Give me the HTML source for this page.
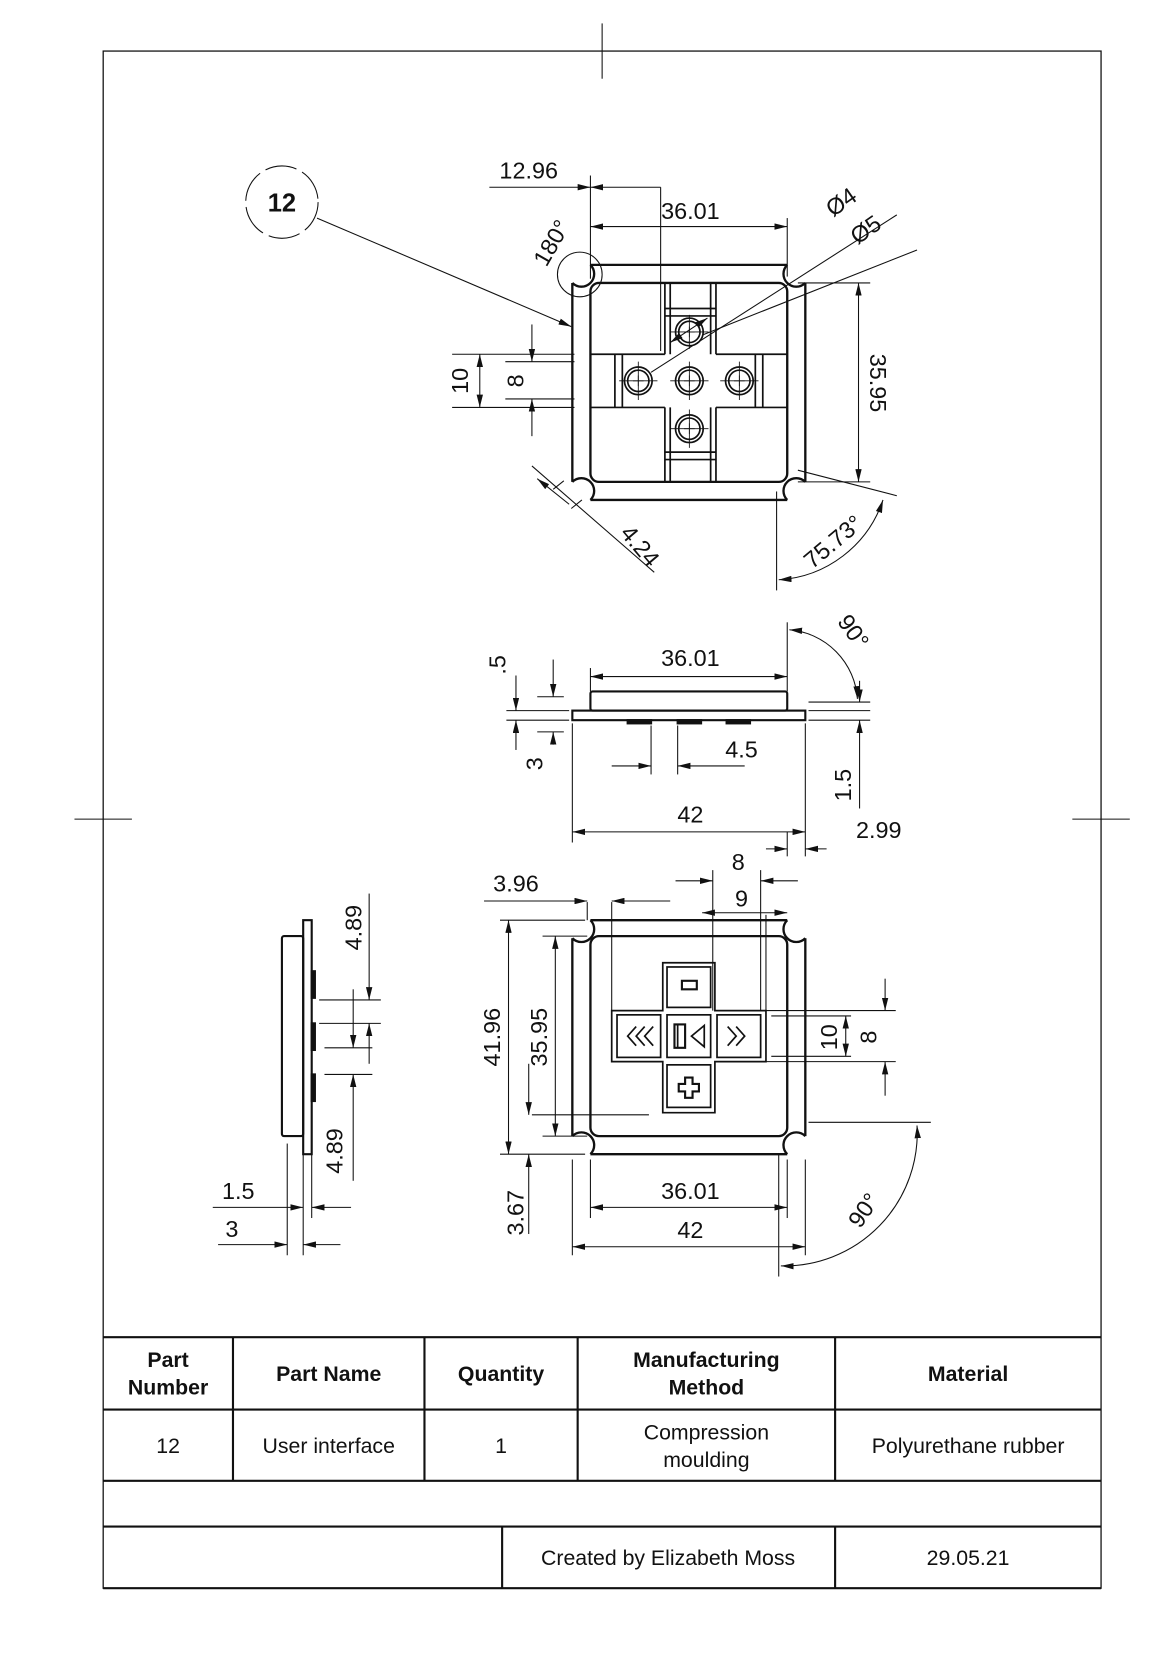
<!DOCTYPE html>
<html><head><meta charset="utf-8"><style>
html,body{margin:0;padding:0;background:#fff}
svg{display:block}
text{font-family:"Liberation Sans",Arial,sans-serif;fill:#111}
.d{font-size:22px}
.t{font-size:20px}
.b{font-weight:bold}
</style></head><body>
<svg width="1150" height="1668" viewBox="0 0 1081 1568" preserveAspectRatio="none" xmlns="http://www.w3.org/2000/svg">
<defs>
<marker id="a" viewBox="0 0 12 6" refX="12" refY="3" markerWidth="12" markerHeight="6" orient="auto-start-reverse" markerUnits="userSpaceOnUse"><path d="M0,0 L12,3 L0,6z" fill="#111"/></marker>
</defs>
<g stroke="#111" fill="none" stroke-width="1">
<rect x="97" y="48" width="938" height="1445" stroke-width="1.2"/>
<line x1="566" y1="22" x2="566" y2="74"/>
<line x1="70" y1="770" x2="124" y2="770"/>
<line x1="1008" y1="770" x2="1062" y2="770"/>
<g stroke-width="2">
<line x1="97" y1="1257" x2="1035" y2="1257"/>
<line x1="97" y1="1325" x2="1035" y2="1325"/>
<line x1="97" y1="1392" x2="1035" y2="1392"/>
<line x1="97" y1="1435" x2="1035" y2="1435"/>
<line x1="97" y1="1493" x2="1035" y2="1493"/>
<line x1="219" y1="1257" x2="219" y2="1392"/>
<line x1="399" y1="1257" x2="399" y2="1392"/>
<line x1="543" y1="1257" x2="543" y2="1392"/>
<line x1="785" y1="1257" x2="785" y2="1392"/>
<line x1="472" y1="1435" x2="472" y2="1493"/>
<line x1="785" y1="1435" x2="785" y2="1493"/>
</g>

<g stroke-width="2.2">
<path d="M555,249 H740 M538,266 V453 M757,266 V453 M555,470 H740"/>
<path d="M555,249 A9,9 0 0 1 538,266 M740,249 A9,9 0 0 0 757,266 M538,453 A9,9 0 0 1 555,470 M757,453 A9,9 0 0 0 740,470"/>
<rect x="555" y="266" width="185" height="187" rx="8"/>
</g>
<g stroke-width="1.6">
<path d="M625,266 V333 M673,266 V333 M625,383 V453 M673,383 V453 M555,333 H625 M673,333 H740 M555,383 H625 M673,383 H740"/>
<path d="M630,266 V333 M668,266 V333 M630,383 V453 M668,383 V453"/>
<path d="M625,290 H673 M625,297 H673 M625,425 H673 M625,432 H673"/>
<path d="M578,333 V383 M585,333 V383 M710,333 V383 M717,333 V383"/>
</g>
<g stroke-width="1.6">
<circle cx="648" cy="312" r="13"/><circle cx="648" cy="312" r="10"/>
<circle cx="600" cy="358" r="13"/><circle cx="600" cy="358" r="10"/>
<circle cx="648" cy="358" r="13"/><circle cx="648" cy="358" r="10"/>
<circle cx="695" cy="358" r="13"/><circle cx="695" cy="358" r="10"/>
<circle cx="648" cy="403" r="13"/><circle cx="648" cy="403" r="10"/>
</g>
<g stroke-width="0.8">
<path d="M630,312 H666 M648,296 V328 M582,358 H618 M600,340 V376 M630,358 H666 M648,340 V376 M677,358 H713 M695,340 V376 M630,403 H666 M648,385 V421"/>
<path d="M643,312 H653 M648,307 V317 M595,358 H605 M600,353 V363 M643,358 H653 M648,353 V363 M690,358 H700 M695,353 V363 M643,403 H653 M648,398 V408"/>
</g>
<line x1="555" y1="165" x2="555" y2="262"/>
<line x1="621" y1="176" x2="621" y2="330"/>
<line x1="740" y1="205" x2="740" y2="260"/>
<line x1="460" y1="176" x2="555" y2="176" marker-end="url(#a)"/>
<line x1="621" y1="176" x2="555" y2="176" marker-end="url(#a)"/>
<line x1="555" y1="213" x2="740" y2="213" marker-start="url(#a)" marker-end="url(#a)"/>
<line x1="750" y1="266" x2="818" y2="266"/>
<line x1="750" y1="453" x2="818" y2="453"/>
<line x1="807" y1="266" x2="807" y2="453" marker-start="url(#a)" marker-end="url(#a)"/>
<line x1="425" y1="333" x2="540" y2="333"/>
<line x1="425" y1="383" x2="540" y2="383"/>
<line x1="451" y1="333" x2="451" y2="383" marker-start="url(#a)" marker-end="url(#a)"/>
<line x1="475" y1="340" x2="540" y2="340"/>
<line x1="475" y1="375" x2="540" y2="375"/>
<line x1="500" y1="305" x2="500" y2="340" marker-end="url(#a)"/>
<line x1="500" y1="410" x2="500" y2="375" marker-end="url(#a)"/>
<circle cx="265" cy="190" r="34" stroke-dasharray="30 6"/>
<line x1="298" y1="205" x2="537" y2="307" marker-end="url(#a)"/>
<circle cx="545" cy="258" r="21"/>
<line x1="612" y1="350" x2="843" y2="202"/>
<line x1="630" y1="322" x2="665" y2="299" marker-start="url(#a)" marker-end="url(#a)"/>
<line x1="660" y1="315" x2="862" y2="235"/>
<line x1="500" y1="438" x2="615" y2="538"/>
<line x1="505" y1="450" x2="535" y2="474" marker-start="url(#a)"/>
<line x1="520" y1="460" x2="530" y2="452"/>
<line x1="537" y1="478" x2="547" y2="470"/>
<line x1="730" y1="462" x2="730" y2="555"/>
<line x1="750" y1="442" x2="843" y2="466"/>
<path d="M732,545 A110,110 0 0 0 830,470" marker-start="url(#a)" marker-end="url(#a)"/>

<g stroke-width="2">
<rect x="555" y="650" width="185" height="18" rx="2"/>
<rect x="538" y="668" width="219" height="9"/>
<rect x="590" y="677" width="22" height="3" fill="#111"/>
<rect x="637" y="677" width="22" height="3" fill="#111"/>
<rect x="683" y="677" width="22" height="3" fill="#111"/>
</g>
<line x1="555" y1="628" x2="555" y2="650"/>
<line x1="740" y1="585" x2="740" y2="650"/>
<line x1="555" y1="636" x2="740" y2="636" marker-start="url(#a)" marker-end="url(#a)"/>
<line x1="538" y1="680" x2="538" y2="792"/>
<line x1="757" y1="680" x2="757" y2="805"/>
<line x1="538" y1="782" x2="757" y2="782" marker-start="url(#a)" marker-end="url(#a)"/>
<line x1="612" y1="682" x2="612" y2="728"/>
<line x1="637" y1="682" x2="637" y2="728"/>
<line x1="575" y1="720" x2="612" y2="720" marker-end="url(#a)"/>
<line x1="700" y1="720" x2="637" y2="720" marker-end="url(#a)"/>
<line x1="476" y1="668" x2="535" y2="668"/>
<line x1="476" y1="677" x2="535" y2="677"/>
<line x1="505" y1="655" x2="530" y2="655"/>
<line x1="505" y1="688" x2="530" y2="688"/>
<line x1="485" y1="635" x2="485" y2="668" marker-end="url(#a)"/>
<line x1="485" y1="705" x2="485" y2="677" marker-end="url(#a)"/>
<line x1="520" y1="620" x2="520" y2="655" marker-end="url(#a)"/>
<line x1="520" y1="700" x2="520" y2="688" marker-end="url(#a)"/>
<line x1="760" y1="660" x2="818" y2="660"/>
<line x1="760" y1="668" x2="818" y2="668"/>
<line x1="760" y1="677" x2="818" y2="677"/>
<line x1="808" y1="640" x2="808" y2="660" marker-end="url(#a)"/>
<line x1="808" y1="760" x2="808" y2="677" marker-end="url(#a)"/>
<line x1="740" y1="782" x2="740" y2="805"/>
<line x1="720" y1="798" x2="740" y2="798" marker-end="url(#a)"/>
<line x1="777" y1="798" x2="757" y2="798" marker-end="url(#a)"/>
<path d="M742,592 A70,70 0 0 1 806,657" marker-start="url(#a)" marker-end="url(#a)"/>

<g stroke-width="2.2">
<path d="M555,865 H740 M538,882 V1068 M757,882 V1068 M555,1085 H740"/>
<path d="M555,865 A9,9 0 0 1 538,882 M740,865 A9,9 0 0 0 757,882 M538,1068 A9,9 0 0 1 555,1085 M757,1068 A9,9 0 0 0 740,1085"/>
<rect x="555" y="880" width="185" height="188" rx="8"/>
</g>
<g stroke-width="1.6">
<path d="M623,905 H672 V950 H720 V998 H672 V1046 H623 V998 H575 V950 H623 Z"/>
<rect x="627" y="909" width="41" height="38"/>
<rect x="580" y="954" width="41" height="40"/>
<rect x="627" y="954" width="41" height="40"/>
<rect x="674" y="954" width="41" height="40"/>
<rect x="627" y="1001" width="41" height="40"/>
<rect x="641" y="922" width="14" height="8" stroke-width="2"/>
<path d="M644,1013 h7 v6 h6 v7 h-6 v6 h-7 v-6 h-6 v-7 h6 z" stroke-width="2"/>
<path d="M598,965 L590,974 L598,983 M606,965 L598,974 L606,983 M614,965 L606,974 L614,983"/>
<path d="M684,965 L692,974 L684,983 M692,965 L700,974 L692,983" />
<rect x="634" y="963" width="10" height="22" stroke-width="2"/>
<path d="M637,963 V985 M662,964 L650,974 L662,984 Z"/>
</g>
<line x1="552" y1="848" x2="552" y2="865"/>
<line x1="575" y1="848" x2="575" y2="950"/>
<line x1="455" y1="847" x2="552" y2="847" marker-end="url(#a)"/>
<line x1="630" y1="847" x2="575" y2="847" marker-end="url(#a)"/>
<line x1="670" y1="818" x2="670" y2="950"/>
<line x1="715" y1="818" x2="715" y2="950"/>
<line x1="635" y1="828" x2="670" y2="828" marker-end="url(#a)"/>
<line x1="750" y1="828" x2="715" y2="828" marker-end="url(#a)"/>
<line x1="720" y1="860" x2="720" y2="950"/>
<line x1="660" y1="858" x2="740" y2="858" marker-start="url(#a)" marker-end="url(#a)"/>
<line x1="470" y1="865" x2="550" y2="865"/>
<line x1="470" y1="1085" x2="550" y2="1085"/>
<line x1="478" y1="865" x2="478" y2="1085" marker-start="url(#a)" marker-end="url(#a)"/>
<line x1="510" y1="880" x2="552" y2="880"/>
<line x1="510" y1="1068" x2="552" y2="1068"/>
<line x1="522" y1="880" x2="522" y2="1068" marker-start="url(#a)" marker-end="url(#a)"/>
<line x1="500" y1="1048" x2="610" y2="1048"/>
<line x1="497" y1="1000" x2="497" y2="1048" marker-end="url(#a)"/>
<line x1="497" y1="1160" x2="497" y2="1085" marker-end="url(#a)"/>
<line x1="720" y1="950" x2="842" y2="950"/>
<line x1="720" y1="998" x2="842" y2="998"/>
<line x1="725" y1="955" x2="800" y2="955"/>
<line x1="725" y1="993" x2="800" y2="993"/>
<line x1="795" y1="955" x2="795" y2="993" marker-start="url(#a)" marker-end="url(#a)"/>
<line x1="832" y1="920" x2="832" y2="950" marker-end="url(#a)"/>
<line x1="832" y1="1030" x2="832" y2="998" marker-end="url(#a)"/>
<line x1="555" y1="1090" x2="555" y2="1145"/>
<line x1="740" y1="1090" x2="740" y2="1145"/>
<line x1="555" y1="1135" x2="740" y2="1135" marker-start="url(#a)" marker-end="url(#a)"/>
<line x1="538" y1="1090" x2="538" y2="1180"/>
<line x1="757" y1="1090" x2="757" y2="1180"/>
<line x1="538" y1="1172" x2="757" y2="1172" marker-start="url(#a)" marker-end="url(#a)"/>
<line x1="760" y1="1055" x2="875" y2="1055"/>
<line x1="732" y1="1085" x2="732" y2="1200"/>
<path d="M734,1190 A125,125 0 0 0 862,1058" marker-start="url(#a)" marker-end="url(#a)"/>

<g stroke-width="2">
<rect x="265" y="880" width="20" height="188" rx="2"/>
<rect x="285" y="865" width="8" height="220"/>
<rect x="293" y="913" width="3" height="25" fill="#111"/>
<rect x="293" y="962" width="3" height="25" fill="#111"/>
<rect x="293" y="1010" width="3" height="25" fill="#111"/>
</g>
<line x1="300" y1="940" x2="358" y2="940"/>
<line x1="300" y1="962" x2="358" y2="962"/>
<line x1="305" y1="985" x2="350" y2="985"/>
<line x1="305" y1="1010" x2="350" y2="1010"/>
<line x1="347" y1="840" x2="347" y2="940" marker-end="url(#a)"/>
<line x1="347" y1="1000" x2="347" y2="962" marker-end="url(#a)"/>
<line x1="332" y1="930" x2="332" y2="985" marker-end="url(#a)"/>
<line x1="332" y1="1110" x2="332" y2="1010" marker-end="url(#a)"/>
<line x1="270" y1="1075" x2="270" y2="1180"/>
<line x1="285" y1="1075" x2="285" y2="1180"/>
<line x1="293" y1="1075" x2="293" y2="1145"/>
<line x1="200" y1="1135" x2="285" y2="1135" marker-end="url(#a)"/>
<line x1="330" y1="1135" x2="293" y2="1135" marker-end="url(#a)"/>
<line x1="205" y1="1170" x2="270" y2="1170" marker-end="url(#a)"/>
<line x1="320" y1="1170" x2="285" y2="1170" marker-end="url(#a)"/>
</g>

<g class="d">
<text x="497" y="168" text-anchor="middle">12.96</text>
<text x="649" y="206" text-anchor="middle">36.01</text>
<text x="265" y="199" text-anchor="middle" class="b" style="font-size:24px">12</text>
<text transform="translate(525,232) rotate(-60)" text-anchor="middle">180°</text>
<text transform="translate(795,196) rotate(-35)" text-anchor="middle">Ø4</text>
<text transform="translate(818,222) rotate(-35)" text-anchor="middle">Ø5</text>
<text transform="translate(818,360) rotate(90)" text-anchor="middle">35.95</text>
<text transform="translate(440,358) rotate(-90)" text-anchor="middle">10</text>
<text transform="translate(492,358) rotate(-90)" text-anchor="middle">8</text>
<text transform="translate(596,518) rotate(50)" text-anchor="middle">4.24</text>
<text transform="translate(788,515) rotate(-40)" text-anchor="middle">75.73°</text>
<text x="649" y="626" text-anchor="middle">36.01</text>
<text transform="translate(475,625) rotate(-90)" text-anchor="middle">.5</text>
<text transform="translate(510,718) rotate(-90)" text-anchor="middle">3</text>
<text x="697" y="712" text-anchor="middle">4.5</text>
<text transform="translate(800,738) rotate(-90)" text-anchor="middle">1.5</text>
<text x="649" y="773" text-anchor="middle">42</text>
<text x="826" y="788" text-anchor="middle">2.99</text>
<text transform="translate(796,598) rotate(55)" text-anchor="middle">90°</text>
<text x="485" y="838" text-anchor="middle">3.96</text>
<text x="694" y="818" text-anchor="middle">8</text>
<text x="697" y="852" text-anchor="middle">9</text>
<text transform="translate(470,975) rotate(-90)" text-anchor="middle">41.96</text>
<text transform="translate(514,975) rotate(-90)" text-anchor="middle">35.95</text>
<text transform="translate(787,975) rotate(-90)" text-anchor="middle">10</text>
<text transform="translate(824,975) rotate(-90)" text-anchor="middle">8</text>
<text transform="translate(492,1140) rotate(-90)" text-anchor="middle">3.67</text>
<text x="649" y="1127" text-anchor="middle">36.01</text>
<text x="649" y="1164" text-anchor="middle">42</text>
<text transform="translate(818,1142) rotate(-55)" text-anchor="middle">90°</text>
<text transform="translate(340,872) rotate(-90)" text-anchor="middle">4.89</text>
<text transform="translate(322,1082) rotate(-90)" text-anchor="middle">4.89</text>
<text x="224" y="1127" text-anchor="middle">1.5</text>
<text x="218" y="1163" text-anchor="middle">3</text>
</g>
<g class="t">
<text x="158" y="1285" text-anchor="middle" class="b">Part</text>
<text x="158" y="1311" text-anchor="middle" class="b">Number</text>
<text x="309" y="1298" text-anchor="middle" class="b">Part Name</text>
<text x="471" y="1298" text-anchor="middle" class="b">Quantity</text>
<text x="664" y="1285" text-anchor="middle" class="b">Manufacturing</text>
<text x="664" y="1311" text-anchor="middle" class="b">Method</text>
<text x="910" y="1298" text-anchor="middle" class="b">Material</text>
<text x="158" y="1366" text-anchor="middle">12</text>
<text x="309" y="1366" text-anchor="middle">User interface</text>
<text x="471" y="1366" text-anchor="middle">1</text>
<text x="664" y="1353" text-anchor="middle">Compression</text>
<text x="664" y="1379" text-anchor="middle">moulding</text>
<text x="910" y="1366" text-anchor="middle">Polyurethane rubber</text>
<text x="628" y="1471" text-anchor="middle">Created by Elizabeth Moss</text>
<text x="910" y="1471" text-anchor="middle">29.05.21</text>
</g>
</svg>
</body></html>
